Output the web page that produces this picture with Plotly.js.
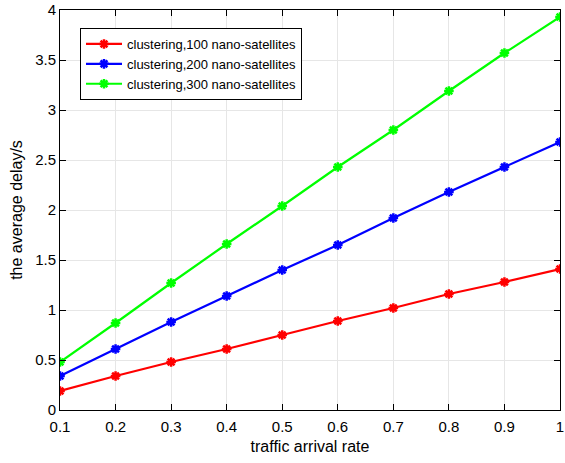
<!DOCTYPE html>
<html><head><meta charset="utf-8">
<script src="https://cdn.plot.ly/plotly-3.0.1.min.js"></script>
<style>body{margin:0;padding:0;background:#fff}#chart{width:565px;height:463px}</style>
</head><body><div id="chart"></div>
<script>
const xVals = [0.1,0.2,0.3,0.4,0.5,0.6,0.7,0.8,0.9,1.0];
const series100 = [0.19,0.34,0.48,0.61,0.75,0.89,1.02,1.16,1.28,1.41];
const series200 = [0.34,0.61,0.88,1.14,1.40,1.65,1.92,2.18,2.43,2.68];
const series300 = [0.48,0.87,1.27,1.66,2.04,2.43,2.80,3.19,3.57,3.93];
const names = ['clustering,100 nano-satellites','clustering,200 nano-satellites','clustering,300 nano-satellites'];
const colors = ['#ff0000','#0000ff','#00ff00'];
const xTicks = [0.1,0.2,0.3,0.4,0.5,0.6,0.7,0.8,0.9,1];
const xTickText = ['0.1','0.2','0.3','0.4','0.5','0.6','0.7','0.8','0.9','1'];
const yTicks = [0,0.5,1,1.5,2,2.5,3,3.5,4];
const yTickText = ['0','0.5','1','1.5','2','2.5','3','3.5','4'];

const data = [series100, series200, series300].map((ys,i)=>({
  x: xVals, y: ys, name: names[i], type:'scatter', mode:'lines+markers',
  line:{color:colors[i], width:2.2},
  marker:{symbol:'asterisk-open', size:8, color:colors[i], line:{color:colors[i], width:2.5}}
}));

const font = {family:'Liberation Sans, Arial, sans-serif', color:'#000'};
const layout = {
  width:565, height:463,
  margin:{l:60, r:5, t:10, b:53},
  paper_bgcolor:'#fff', plot_bgcolor:'#fff',
  showlegend:true,
  legend:{x:0.04, y:0.955, xanchor:'left', yanchor:'top', bgcolor:'#fff', bordercolor:'#000', borderwidth:1,
    font:{...font, size:13}, tracegroupgap:0, itemwidth:36, tracegroupgap:0},
  xaxis:{range:[0.1,1.0], tickvals:xTicks, ticktext:xTickText, ticks:'inside', ticklen:6, tickcolor:'#000',
    showline:true, linecolor:'#000', linewidth:1, mirror:'ticks', showgrid:true, gridcolor:'#e6e6e6', zeroline:false,
    ticklabelstandoff:3,
    tickfont:{...font, size:15}, title:{text:'traffic arrival rate', font:{...font, size:16}, standoff:6}},
  yaxis:{range:[0,4], tickvals:yTicks, ticktext:yTickText, ticks:'inside', ticklen:6, tickcolor:'#000',
    showline:true, linecolor:'#000', linewidth:1, mirror:'ticks', showgrid:true, gridcolor:'#e6e6e6', zeroline:false,
    tickfont:{...font, size:15}, title:{text:'the average delay/s', font:{...font, size:16}, standoff:8}}
};
Plotly.newPlot('chart', data, layout, {displayModeBar:false, staticPlot:true});
</script></body></html>
